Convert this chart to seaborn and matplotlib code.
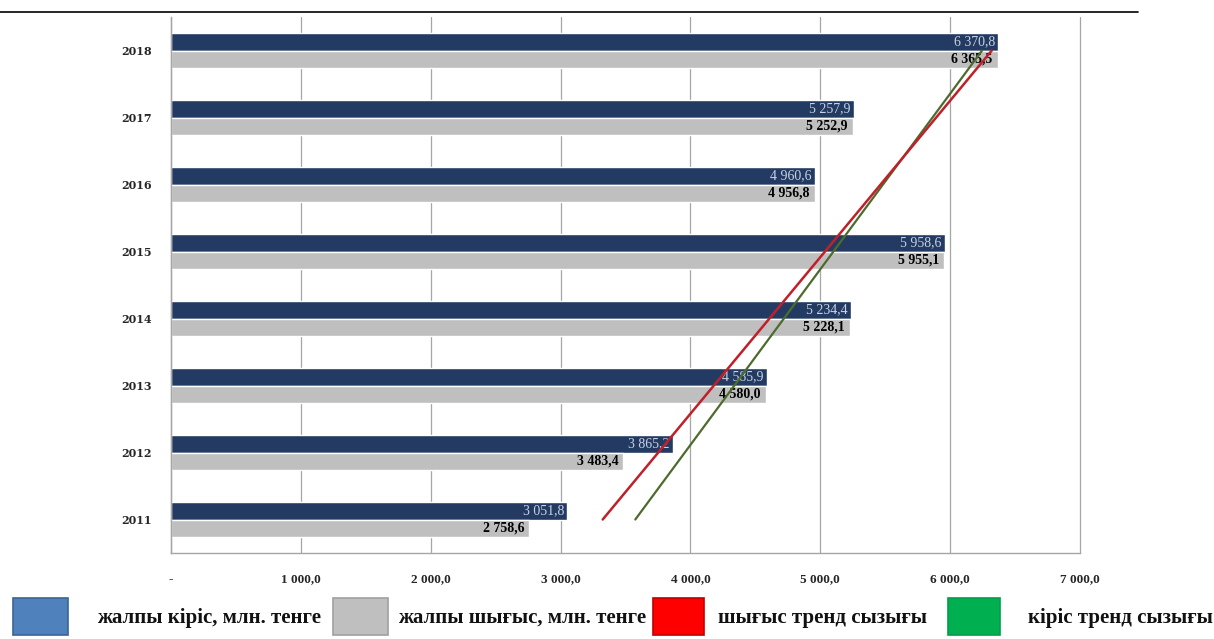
import numpy as np
import pandas as pd
import matplotlib
matplotlib.use("Agg")
import matplotlib.pyplot as plt
from matplotlib.patches import Rectangle
from matplotlib.lines import Line2D
import seaborn as sns

years = ["2018", "2017", "2016", "2015", "2014", "2013", "2012", "2011"]
income = [6370.8, 5257.9, 4960.6, 5958.6, 5234.4, 4585.9, 3865.2, 3051.8]
expense = [6365.5, 5252.9, 4956.8, 5955.1, 5228.1, 4580.0, 3483.4, 2758.6]
series_names = ["жалпы кіріс, млн. тенге", "жалпы шығыс, млн. тенге"]
trend_names = ["шығыс тренд сызығы", "кіріс тренд сызығы"]
x_ticks = [0, 1000, 2000, 3000, 4000, 5000, 6000, 7000]

sns.set_theme(style="white")
plt.rcParams["font.family"] = ["Liberation Serif", "DejaVu Serif"]

df = pd.DataFrame({
    "year": years * 2,
    "value": income + expense,
    "series": [series_names[0]] * len(years) + [series_names[1]] * len(years),
})

W, H = 1214, 639
fig = plt.figure(figsize=(W / 100, H / 100), dpi=100)
ax = fig.add_axes([171 / W, 1 - 553 / H, (1080 - 171) / W, (553 - 17) / H])

bar_colors = ["#233B63", "#BFBFBF"]
sns.barplot(data=df, y="year", x="value", hue="series", order=years,
            hue_order=series_names, palette=bar_colors, orient="h",
            width=0.52, gap=0, ax=ax, legend=False, saturation=1)

# value labels
fmt = lambda v: f"{v:,.1f}".replace(",", " ").replace(".", ",")
for i, c in enumerate(ax.containers):
    for bar, v in zip(c, income if i == 0 else expense):
        yc = bar.get_y() + bar.get_height() / 2
        if i == 0:
            ax.text(v - 25, yc, fmt(v), ha="right", va="center",
                    color="#C9D2E3", fontsize=10)
        else:
            ax.text(v - 40, yc, fmt(v), ha="right", va="center",
                    color="black", fontsize=10, fontweight="bold")

# trend lines (linear regression over years, drawn from 2011 to 2018)
n = len(years)
ypos = np.arange(n)
t_chron = (n - 1) - ypos
pe = np.polyfit(t_chron, expense, 1)
pi = np.polyfit(t_chron, income, 1)
ends = np.array([0, n - 1])
ax.plot(np.polyval(pi, ends), (n - 1) - ends, color="#4E6B2E", lw=1.6, zorder=5)
ax.plot(np.polyval(pe, ends), (n - 1) - ends, color="#C0202A", lw=1.8, zorder=6)

ax.set_xlim(0, 7000)
ax.set_ylim(n - 0.5, -0.5)
ax.set_xticks(x_ticks)
ax.set_xticklabels(["-" if v == 0 else fmt(v) for v in x_ticks],
                   fontsize=9.5, fontweight="bold")
ax.set_yticks(range(n))
ax.set_yticklabels(years, fontsize=8, fontweight="bold",
                   family=["DejaVu Serif"])
ax.set_yticks(np.arange(n + 1) - 0.5, minor=True)
ax.tick_params(axis="y", which="major", length=0, pad=14)
ax.tick_params(axis="y", which="minor", length=4, color="#A0A0A0", direction="out")
ax.tick_params(axis="x", length=5, color="#A0A0A0", direction="inout", pad=12)
ax.set_xlabel("")
ax.set_ylabel("")
ax.grid(axis="x", color="#A6A6A6", lw=0.9)
for gl in ax.get_xgridlines():
    gl.set_clip_on(False)
ax.set_axisbelow(True)
for s in ["top", "right"]:
    ax.spines[s].set_visible(False)
for s in ["left", "bottom"]:
    ax.spines[s].set_color("#A6A6A6")
    ax.spines[s].set_linewidth(1.0)

# top rule line
fig.add_artist(Line2D([0, 1138 / W], [1 - 12 / H, 1 - 12 / H], color="black", lw=1.2))

# legend drawn manually along the bottom
leg_colors = [("#4F81BD", "#3A6596"), ("#BFBFBF", "#A0A0A0"),
              ("#FF0000", "#C00000"), ("#00B050", "#00A048")]
leg_labels = series_names + trend_names
patch_x = [13, 333, 653, 948]
patch_w = [55, 55, 51, 52]
text_x = [97, 398, 718, 1028]
for (fc, ec), lab, px, pw, tx in zip(leg_colors, leg_labels, patch_x, patch_w, text_x):
    fig.add_artist(Rectangle((px / W, 1 - 635 / H), pw / W, 37 / H,
                             facecolor=fc, edgecolor=ec, lw=1.2,
                             transform=fig.transFigure))
    fig.text(tx / W, 1 - 618 / H, lab, ha="left", va="center",
             fontsize=15, fontweight="bold", color="#111111")

fig.savefig("out.png", dpi=100)
